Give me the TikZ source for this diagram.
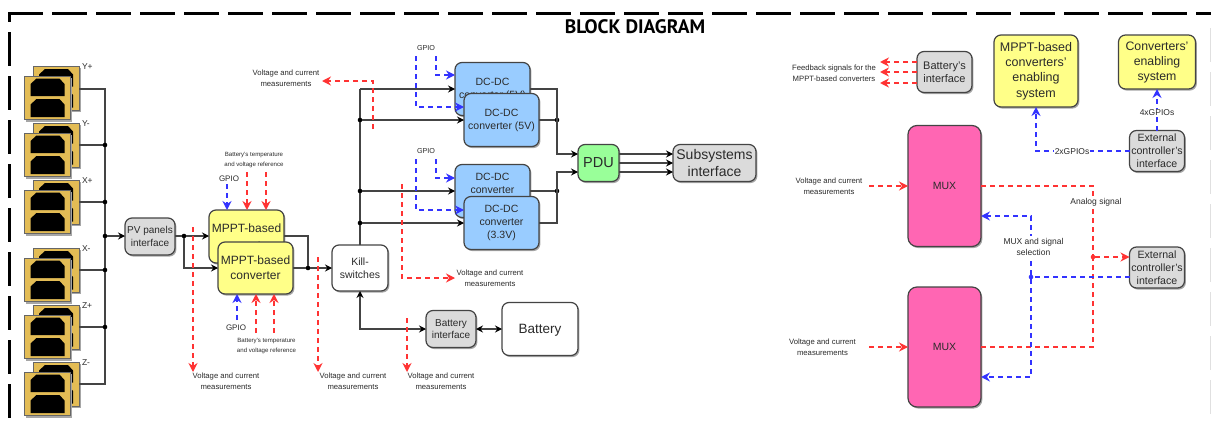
\documentclass[tikz,border=0pt]{standalone}
\usepackage{fontspec}
\setmainfont{Liberation Sans}
\newfontfamily\titlefont{PT Sans}
\usetikzlibrary{arrows.meta,shadows,calc}
\definecolor{wire}{HTML}{444444}
\definecolor{txt}{HTML}{2B2B2B}
\definecolor{redl}{HTML}{FF3333}
\definecolor{bluel}{HTML}{3333FF}
\definecolor{gold}{HTML}{E3BC55}
\definecolor{yellowfill}{HTML}{FFFF88}
\definecolor{bluefill}{HTML}{99CCFF}
\definecolor{pdugreen}{HTML}{99FF99}
\definecolor{muxpink}{HTML}{FF66B3}
\tikzset{
 x=1pt,y=-1pt,
 every node/.style={text=txt,align=center,inner sep=0pt,outer sep=0pt},
 box/.style={draw=wire,line width=1.2pt,rounded corners=7pt,
   drop shadow={shadow xshift=1.4pt,shadow yshift=-1.6pt,opacity=0.35,fill=black}},
 graybox/.style={fill=black!14},
 yellowbox/.style={fill=yellowfill},
 bluebox/.style={fill=bluefill},
 wirel/.style={draw=wire,line width=1.2pt},
 arr/.style={-{Stealth[length=7pt,width=7pt,inset=2.4pt,color=black]}},
 barr/.style={{Stealth[length=7pt,width=7pt,inset=2.4pt,color=black]}-{Stealth[length=7pt,width=7pt,inset=2.4pt,color=black]}},
 reddash/.style={draw=redl,line width=1.5pt,dash pattern=on 5pt off 4pt},
 bluedash/.style={draw=bluel,line width=1.5pt,dash pattern=on 5pt off 4pt},
 rarr/.style={-{Stealth[length=9pt,width=9pt,inset=3pt]}},
 barw/.style={-{Stealth[length=9pt,width=9pt,inset=3pt]}},
 dot/.style={circle,fill=black,minimum size=4.6pt},
 rdot/.style={circle,fill=redl,minimum size=4.6pt},
 bdot/.style={circle,fill=bluel,minimum size=4.6pt},
 lab/.style={font=\fontsize{7.7}{11.4}\selectfont},
 tinylab/.style={font=\fontsize{6.1}{10.6}\selectfont},
 plab/.style={font=\fontsize{8.5}{10}\selectfont},
 panelback/.style={draw=black!60,line width=1pt,fill=gold},
 whitebg/.style={fill=white}
}
\newcommand{\onepanel}[2]{%
 \fill[black!35] (#1+1.5,#2+1.5) rectangle (#1+47.5,#2+45.5);
 \draw[panelback] (#1,#2) rectangle (#1+46,#2+43.5);
 \fill[black] (#1+6,#2+20) -- (#1+6,#2+8) -- (#1+12,#2+2.5) -- (#1+35,#2+2.5) -- (#1+40,#2+8) -- (#1+40,#2+20) -- cycle;
 \fill[black] (#1+6,#2+41) -- (#1+6,#2+28.5) -- (#1+12,#2+23) -- (#1+35,#2+23) -- (#1+40,#2+28.5) -- (#1+40,#2+41) -- cycle;}
\newcommand{\panelpair}[2]{\onepanel{33}{#1}\onepanel{24.5}{#1+9.5}
 \node[plab,anchor=west] at (82,#1) {#2};}
\begin{document}
\begin{tikzpicture}
\useasboundingbox (0,0) rectangle (1211,423);
\fill[white] (0,0) rectangle (1211,423);
% border
\draw[black,line width=3pt,dash pattern=on 34.5pt off 9.5pt] (8,13) -- (1211,13);
\draw[black,line width=3pt,dash pattern=on 9pt off 10pt on 34pt off 10pt on 34pt off 10pt on 34pt off 10pt on 34pt off 10pt on 34pt off 10pt on 34pt off 10pt on 34pt off 10pt on 34pt off 10pt on 34pt off 10pt] (9.5,13) -- (9.5,423);
\draw[black!12,line width=1pt,dash pattern=on 34pt off 10pt] (1210.5,28) -- (1210.5,423);
\node[font=\titlefont\bfseries\fontsize{19.5}{19.5}\selectfont,text=black] (title) at (635,27) {BLOCK DIAGRAM};
% panels
\panelpair{66.5}{Y+}
\panelpair{123.5}{Y-}
\panelpair{180.5}{X+}
\panelpair{248.5}{X-}
\panelpair{305.5}{Z+}
\panelpair{362.5}{Z-}
\coordinate (p1) at (79,89);
\coordinate (p2) at (79,145);
\coordinate (p3) at (79,202);
\coordinate (p4) at (79,270);
\coordinate (p5) at (79,327);
\coordinate (p6) at (79,384);
\coordinate (bus) at (105,236);
% boxes
\node[box,graybox,minimum width=50pt,minimum height=37pt,font=\fontsize{10}{12.5}\selectfont] (pv) at (150,236.5) {PV panels\\interface};
\node[box,yellowbox,minimum width=75pt,minimum height=53pt,font=\fontsize{12}{17.5}\selectfont] (m1) at (246.5,236.5) {MPPT-based\\converter};
\node[box,yellowbox,minimum width=75pt,minimum height=52pt,font=\fontsize{12}{15}\selectfont] (m2) at (255.5,268) {MPPT-based\\converter};
\node[box,minimum width=56pt,minimum height=46pt,fill=white,font=\fontsize{10.5}{13}\selectfont] (kill) at (360,268) {Kill-\\switches};
\node[box,bluebox,minimum width=75pt,minimum height=53pt,font=\fontsize{10.5}{13}\selectfont] (d1) at (492.5,89) {DC-DC\\converter (5V)};
\node[box,bluebox,minimum width=75pt,minimum height=53pt,font=\fontsize{10.5}{13}\selectfont] (d2) at (501.5,120) {DC-DC\\converter (5V)};
\node[box,bluebox,minimum width=75pt,minimum height=53pt,font=\fontsize{10.5}{13}\selectfont] (d3) at (492.5,191) {DC-DC\\converter\\\phantom{(3.3V)}};
\node[box,bluebox,minimum width=75pt,minimum height=53pt,font=\fontsize{10.5}{13}\selectfont] (d4) at (501.5,223) {DC-DC\\converter\\(3.3V)};
\node[box,fill=pdugreen,minimum width=41pt,minimum height=37pt,font=\fontsize{14.5}{15}\selectfont] (pdu) at (598.5,163) {PDU};
\node[box,graybox,minimum width=83pt,minimum height=37pt,font=\fontsize{14}{17}\selectfont] (sub) at (714.5,163) {Subsystems\\interface};
\node[box,graybox,minimum width=50pt,minimum height=37pt,font=\fontsize{10}{12.5}\selectfont] (bi) at (451,329) {Battery\\interface};
\node[box,minimum width=76pt,minimum height=53pt,fill=white,font=\fontsize{13.5}{15}\selectfont,text depth=0pt] (bat) at (540,329) {Battery};
\node[box,graybox,minimum width=55pt,minimum height=41pt,font=\fontsize{11}{13}\selectfont] (bif) at (944.5,72) {Battery's\\interface};
\node[box,yellowbox,minimum width=84pt,minimum height=72pt,font=\fontsize{12.5}{15.2}\selectfont] (men) at (1036,71) {MPPT-based\\converters'\\enabling\\system};
\node[box,yellowbox,minimum width=77pt,minimum height=54pt,font=\fontsize{12.3}{15}\selectfont] (cen) at (1157,62) {Converters'\\enabling\\system};
\node[box,graybox,minimum width=55pt,minimum height=41pt,font=\fontsize{10.6}{13.2}\selectfont] (e1) at (1157,151) {External\\controller's\\interface};
\node[box,graybox,minimum width=55pt,minimum height=41pt,font=\fontsize{10.6}{13.2}\selectfont] (e2) at (1157,267.5) {External\\controller's\\interface};
\node[box,fill=muxpink,minimum width=73pt,minimum height=121pt,font=\fontsize{10.5}{12}\selectfont,rounded corners=9pt] (mx1) at (944.5,186) {MUX};
\node[box,fill=muxpink,minimum width=73pt,minimum height=120pt,font=\fontsize{10.5}{12}\selectfont,rounded corners=9pt] (mx2) at (944.5,347) {MUX};
% solid wiring
\coordinate (b1) at (105,89);\coordinate (b6) at (105,384);
\draw[wirel] (p1) -- (b1) -- (b6) -- (p6);
\draw[wirel] (p2) -- (105,145) node[dot]{};
\draw[wirel] (p3) -- (105,202) node[dot]{};
\draw[wirel] (p4) -- (105,270) node[dot]{};
\draw[wirel] (p5) -- (105,327) node[dot]{};
\node[dot] (busd) at (bus) {};
\draw[wirel,arr] (busd) -- (pv.west |- busd);
\node[dot] (pvj) at (184,236) {};
\draw[wirel] (pv.east |- pvj) -- (pvj);
\draw[wirel,arr] (pvj) -- (m1.west |- pvj);
\draw[wirel,arr] (pvj) |- (m2.west);
\node[dot] (mj) at (308,268) {};
\draw[wirel] (m1.east |- pvj) -| (mj);
\draw[wirel] (m2.east) -- (mj);
\draw[wirel,arr] (mj) -- (kill.west);
% kill bus
\coordinate (ktop) at (360,89);
\draw[wirel] (kill.north) -- (ktop);
\draw[wirel,arr] (ktop) -- (d1.west);
\node[dot] (kj2) at (360,120) {};
\node[dot] (kj3) at (360,191) {};
\node[dot] (kj4) at (360,223) {};
\draw[wirel,arr] (kj2) -- (d2.west);
\draw[wirel,arr] (kj3) -- (d3.west);
\draw[wirel,arr] (kj4) -- (d4.west);
% DC to PDU
\coordinate (pa) at ($(pdu.west)+(0,-9)$);
\coordinate (pb) at ($(pdu.west)+(0,9)$);
\node[dot] (dj1) at (557,120) {};
\node[dot] (dj2) at (557,191) {};
\draw[wirel] (d2.east) -- (dj1);
\draw[wirel] (d3.east) -- (dj2);
\draw[wirel,arr] (d1.east) -| (557,120) |- (pa);
\draw[wirel,arr] (d4.east) -| (557,191) |- (pb);
% PDU to sub
\draw[wirel,arr] (pa -| pdu.east) -- (pa -| sub.west);
\draw[wirel,arr] (pdu.east) -- (sub.west);
\draw[wirel,arr] (pb -| pdu.east) -- (pb -| sub.west);
% battery
\draw[wirel,barr] (kill.south) |- (bi.west);
\draw[wirel,barr] (bi.east) -- (bat.west);
% red measurements
\coordinate (r1s) at (373,129);\coordinate (r1c) at (373,81);
\node[lab] (t1) at (286,78.5) {Voltage and current\\measurements};
\draw[reddash,rarr] (r1s) -- (r1c) -- (322,81);
\node[lab] (t2) at (490,278) {Voltage and current\\measurements};
\coordinate (r2s) at (402,184);
\draw[reddash,rarr] (r2s) |- (455,278);
\node[lab] (t3) at (226,381.5) {Voltage and current\\measurements};
\draw[reddash,rarr] (193,227) -- (193,372);
\node[lab] (t4) at (353,381.5) {Voltage and current\\measurements};
\draw[reddash,rarr] (318,257) -- (318,372);
\node[lab] (t5) at (441,381.5) {Voltage and current\\measurements};
\draw[reddash,rarr] (407,318) -- (407,372);
% mppt signals
\node[font=\fontsize{8}{10}\selectfont] (g1) at (229,178.5) {GPIO};
\draw[bluedash,barw] (227,184) -- (227,0 |- m1.north);
\node[tinylab] (bt1) at (254,160) {Battery's temperature\\and voltage reference};
\draw[reddash,rarr] (247,172) -- (247,0 |- m1.north);
\draw[reddash,rarr] (266,172) -- (266,0 |- m1.north);
\node[font=\fontsize{8}{10}\selectfont] (g2) at (236,327.5) {GPIO};
\draw[bluedash,barw] (237,320) -- (237,0 |- m2.south);
\node[tinylab] (bt2) at (266.5,346) {Battery's temperature\\and voltage reference};
\draw[reddash,rarr] (256,333) -- (256,0 |- m2.south);
\draw[reddash,rarr] (274,333) -- (274,0 |- m2.south);
% DC gpio
\node[font=\fontsize{7.2}{9}\selectfont] (g3) at (426,48) {GPIO};
\node[font=\fontsize{7.2}{9}\selectfont] (g4) at (426,151) {GPIO};
\draw[bluedash,barw] (436,56) |- (d1.west |- 0,75);
\draw[bluedash,barw] (416,56) |- (d2.west |- 0,107);
\draw[bluedash,barw] (436,159) |- (d3.west |- 0,178);
\draw[bluedash,barw] (416,159) |- (d4.west |- 0,210);
% right part
\node[lab] (fb) at (834,73) {Feedback signals for the\\MPPT-based converters};
\draw[reddash,rarr] (bif.west |- 0,62) -- (880,62);
\draw[reddash,rarr] (bif.west |- 0,72) -- (880,72);
\draw[reddash,rarr] (bif.west |- 0,83) -- (880,83);
\node[lab] (t6) at (829,186) {Voltage and current\\measurements};
\draw[reddash,rarr] (869,186) -- (mx1.west);
\node[lab] (t7) at (822.5,347.5) {Voltage and current\\measurements};
\draw[reddash,rarr] (869,347) -- (mx2.west);
\node[rdot] (rj) at (1093,257) {};
\draw[reddash] (mx1.east) -| (rj);
\draw[reddash] (mx2.east) -| (rj);
\draw[reddash,rarr] (rj) -- (e2.west |- rj);
\node[whitebg,font=\fontsize{8.5}{9}\selectfont,inner sep=1.5pt] (an) at (1096,202.5) {Analog signal};
\node[bdot] (bj) at (1031,277) {};
\draw[bluedash] (e2.west |- bj) -- (bj);
\coordinate (mxa) at (mx1.east |- 0,216);
\coordinate (mxb) at (mx2.east |- 0,377);
\draw[bluedash,barw] (bj) |- (mxa);
\draw[bluedash,barw] (bj) |- (mxb);
\node[whitebg,font=\fontsize{8.5}{11}\selectfont,inner sep=1.5pt] (ms) at (1033.5,246.5) {MUX and signal\\selection};
\draw[bluedash,barw] (e1.west) -| (men.south);
\draw[bluedash,barw] (e1.north) -- (cen.south -| e1.north);
\node[whitebg,font=\fontsize{8.5}{9}\selectfont,inner sep=0.5pt] (g5) at (1072,152) {2xGPIOs};
\node[whitebg,font=\fontsize{8.5}{9}\selectfont,inner sep=1pt] (g6) at (1157,113) {4xGPIOs};
\end{tikzpicture}
\end{document}
